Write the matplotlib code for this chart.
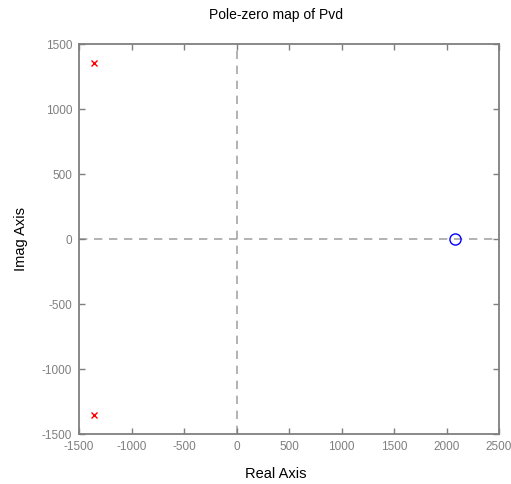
import matplotlib
matplotlib.use("Agg")
import matplotlib.pyplot as plt

# Poles and zeros of Pvd
pole_re = [-1357, -1357]
pole_im = [1354, -1354]
zero_re = [2083]
zero_im = [0]

x_ticks = [-1500, -1000, -500, 0, 500, 1000, 1500, 2000, 2500]
y_ticks = [-1500, -1000, -500, 0, 500, 1000, 1500]

plt.rcParams["font.family"] = ["Liberation Sans", "DejaVu Sans"]
plt.rcParams["axes.unicode_minus"] = False

fig = plt.figure(figsize=(5.11, 4.84), dpi=100)
ax = fig.add_axes([0.1546, 0.1033, 0.822, 0.8057])

grey = "#7f7f7f"
ax.axhline(0, color="#a6a6a6", linestyle=(0, (5, 4)), linewidth=1.2, zorder=1)
ax.axvline(0, color="#a6a6a6", linestyle=(0, (5, 4)), linewidth=1.2, zorder=1)

ax.plot(pole_re, pole_im, linestyle="none", marker="x", color="red",
        markersize=4.5, markeredgewidth=1.0, zorder=3)
ax.plot(zero_re, zero_im, linestyle="none", marker="o", markerfacecolor="none",
        markeredgecolor="blue", markersize=8, markeredgewidth=1.0, zorder=3)

ax.set_xlim(-1500, 2500)
ax.set_ylim(-1500, 1500)
ax.set_xticks(x_ticks)
ax.set_yticks(y_ticks)

for s in ax.spines.values():
    s.set_color(grey)
    s.set_linewidth(1.3)
ax.tick_params(direction="in", length=4, width=1, color=grey, labelcolor=grey,
               labelsize=8.5, top=True, right=True, pad=5)

ax.set_xlabel("Real Axis", fontsize=10.5)
ax.xaxis.set_label_coords(0.469, -0.085)
ax.set_ylabel("Imag Axis", fontsize=10.5, labelpad=10)
ax.set_title("Pole-zero map of Pvd", fontsize=10, x=0.469, pad=18)

fig.savefig("out.png", dpi=100)
